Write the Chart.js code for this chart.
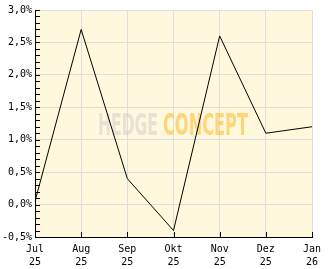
<!DOCTYPE html>
<html>
<head>
<meta charset="utf-8">
<script src="https://cdn.jsdelivr.net/npm/chart.js@4"></script>
<style>
  html, body { margin: 0; padding: 0; background: #fff; }
  #wrap { width: 332px; height: 269px; }
</style>
</head>
<body>
<div id="wrap"><canvas id="chart" width="332" height="269"></canvas></div>
<script>
// Daten
const monate = [['Jul', '25'], ['Aug', '25'], ['Sep', '25'], ['Okt', '25'], ['Nov', '25'], ['Dez', '25'], ['Jan', '26']];
const rendite = [0.05, 2.7, 0.4, -0.4, 2.6, 1.1, 1.2];
const yMin = -0.5;
const yMax = 3.0;
const yStep = 0.5;
const yMinorStep = 0.1;

// Hintergrund der Zeichenfläche
const hintergrund = {
    id: 'hintergrund',
    beforeDraw(chart) {
        const { ctx, chartArea: a } = chart;
        ctx.save();
        ctx.fillStyle = '#fff8dc';
        ctx.fillRect(a.left, a.top, a.right - a.left, a.bottom - a.top);
        ctx.restore();
    }
};

// Wasserzeichen und kleine Striche
const extras = {
    id: 'extras',
    beforeDatasetsDraw(chart) {
        const { ctx } = chart;
        ctx.save();
        ctx.font = 'bold 30px "DejaVu Sans Condensed", "DejaVu Sans"';
        ctx.textBaseline = 'alphabetic';
        const zeichne = (txt, x, w, farbe) => {
            const m = ctx.measureText(txt).width;
            ctx.save();
            ctx.translate(x, 135);
            ctx.scale(w / m, 1);
            ctx.fillStyle = farbe;
            ctx.fillText(txt, 0, 0);
            ctx.restore();
        };
        zeichne('HEDGE', 98, 60, 'rgba(205,205,205,0.5)');
        zeichne('CONCEPT', 163, 85, 'rgba(255,190,60,0.6)');
        ctx.restore();
    },
    afterDraw(chart) {
        const { ctx, chartArea: a, scales } = chart;
        ctx.save();
        ctx.strokeStyle = '#000';
        ctx.lineWidth = 1;
        ctx.beginPath();
        // y-Hilfsstriche
        for (let v = yMin; v <= yMax + 1e-9; v += yMinorStep) {
            const y = Math.round(scales.y.getPixelForValue(v)) + 0.5;
            ctx.moveTo(a.left, y);
            ctx.lineTo(a.left + 5, y);
        }
        // x-Striche
        monate.forEach((m, i) => {
            const x = Math.round(scales.x.getPixelForValue(i)) + 0.5;
            ctx.moveTo(x, a.bottom);
            ctx.lineTo(x, a.bottom - 5);
        });
        ctx.stroke();
        ctx.restore();
    }
};

new Chart(document.getElementById('chart'), {
    type: 'line',
    data: {
        labels: monate,
        datasets: [{
            data: rendite,
            borderColor: '#000',
            borderWidth: 1,
            pointRadius: 0,
            tension: 0,
            fill: false
        }]
    },
    options: {
        responsive: false,
        animation: false,
        devicePixelRatio: 1,
        layout: { padding: { top: 10, right: 20, left: 0, bottom: 0 } },
        plugins: { legend: { display: false }, tooltip: { enabled: false } },
        scales: {
            x: {
                offset: false,
                grid: { color: '#dedede', drawTicks: false },
                border: { color: '#000' },
                afterFit: s => { s.height = 32; },
                ticks: {
                    color: '#000',
                    padding: 6,
                    maxRotation: 0,
                    autoSkip: false,
                    font: { family: '"DejaVu Sans Mono"', size: 10, lineHeight: 1.3 }
                }
            },
            y: {
                min: yMin,
                max: yMax,
                grid: { color: '#dedede', drawTicks: false },
                border: { color: '#000' },
                afterFit: s => { s.width = 35; },
                ticks: {
                    stepSize: yStep,
                    color: '#000',
                    padding: 3,
                    font: { family: '"DejaVu Sans Mono"', size: 10 },
                    callback: v => v.toFixed(1).replace('.', ',') + '%'
                }
            }
        }
    },
    plugins: [hintergrund, extras]
});
</script>
</body>
</html>
